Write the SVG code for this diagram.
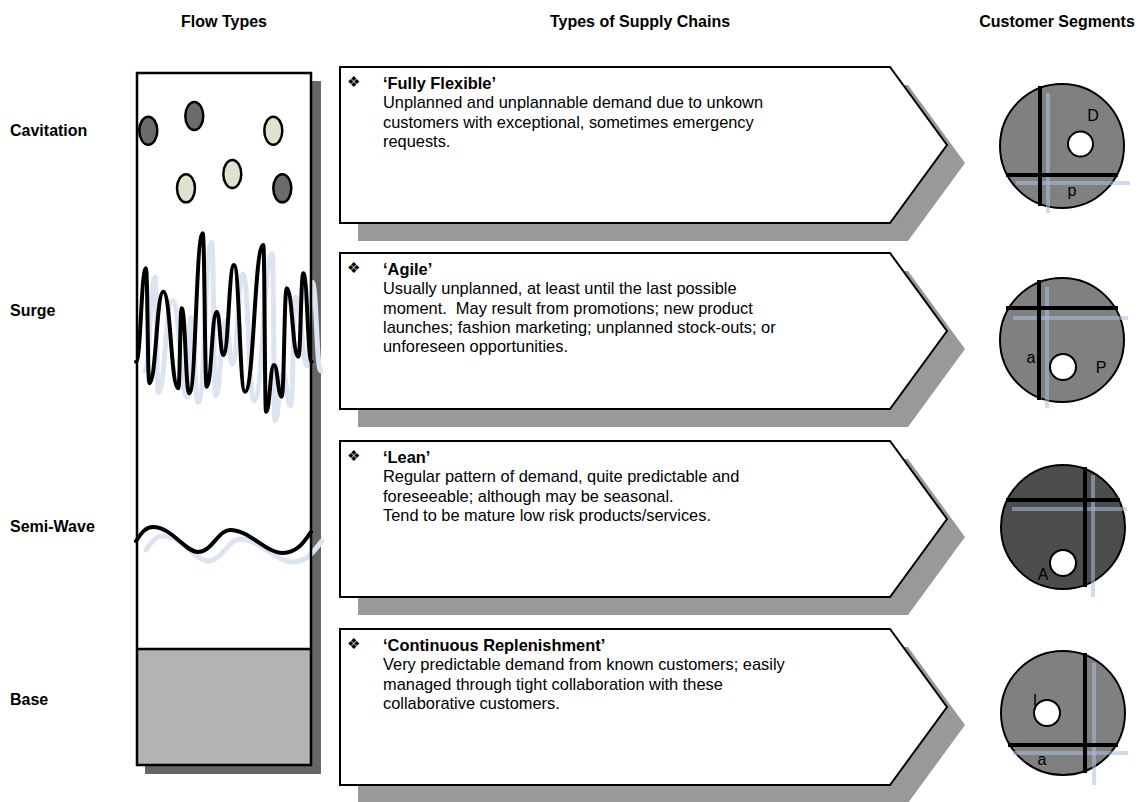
<svg xmlns="http://www.w3.org/2000/svg" width="1139" height="802" viewBox="0 0 1139 802">
  <style>
    .hdr { font-family: "Liberation Sans", Arial, sans-serif; font-size: 16px; font-weight: bold; fill: #000; }
    .body { font-family: "Liberation Sans", Arial, sans-serif; font-size: 16.4px; fill: #000; }
    .ttl { font-weight: bold; }
    .bul { font-family: "DejaVu Sans", sans-serif; font-size: 15px; fill: #000; }
    .arrow { fill: #fff; stroke: #000; stroke-width: 2; stroke-linejoin: miter; }
    .arrowShadow { fill: #999; }
    .seg { stroke: #000; stroke-width: 2; }
    .cut { stroke: #000; stroke-width: 4; fill: none; }
    .ghost { stroke: #a9bde0; stroke-width: 4; fill: none; opacity: 0.55; }
    .hole { fill: #fff; stroke: #000; stroke-width: 2; }
    .lbl { font-family: "Liberation Sans", Arial, sans-serif; font-size: 16px; fill: #000; text-anchor: middle; }
    .dot { stroke: #000; stroke-width: 2.5; }
    .wave { fill: none; stroke: #000; stroke-width: 4; stroke-linejoin: round; stroke-linecap: round; }
    .waveGhost { fill: none; stroke: #dce4f1; stroke-width: 5; stroke-linejoin: round; stroke-linecap: round; }
  </style>
  <defs>
    <polygon id="chev" points="340,0 890,0 947,78 890,156 340,156"/>
  </defs>

  <rect width="1139" height="802" fill="#fff"/>

  <!-- column headers -->
  <g id="headers">
    <text class="hdr" x="224" y="27" text-anchor="middle">Flow Types</text>
    <text class="hdr" x="640" y="27" text-anchor="middle">Types of Supply Chains</text>
    <text class="hdr" x="1057" y="27" text-anchor="middle">Customer Segments</text>
  </g>

  <!-- row labels -->
  <g id="row-labels">
    <text class="hdr" x="10" y="136">Cavitation</text>
    <text class="hdr" x="10" y="316">Surge</text>
    <text class="hdr" x="10" y="532">Semi-Wave</text>
    <text class="hdr" x="10" y="705">Base</text>
  </g>

  <!-- flow types column -->
  <g id="flow-column">
    <rect x="145" y="81" width="176" height="693" fill="#666"/>
    <rect x="137" y="73" width="174" height="692" fill="#fff"/>
    <rect x="137" y="649" width="174" height="116" fill="#b3b3b3"/>
    <line x1="137" y1="649" x2="311" y2="649" stroke="#000" stroke-width="2.5"/>

    <!-- surge wave -->
    <g id="surge">
      <path class="waveGhost" transform="translate(9,9)" d="M136,361.7 C141,361.7 141,268.3 146,268.3 C147.6,268.3 147.6,383.3 149.3,383.3 C156.3,383.3 156.3,291.7 163.3,291.7 C170.8,291.7 170.8,388.3 178.3,388.3 C180,388.3 180,308.3 181.7,308.3 C185.5,308.3 185.5,393.3 189.3,393.3 C196,393.3 196,233.3 202.7,233.3 C204.7,233.3 204.7,386.7 206.7,386.7 C211.7,386.7 211.7,311.7 216.7,311.7 C220,311.7 220,355 223.3,355 C228.7,355 228.7,265 234,265 C239.5,265 239.5,391.7 245,391.7 C254.2,391.7 254.2,245 263.3,245 C264.7,245 264.7,411.7 266,411.7 C270,411.7 270,365 274,365 C277.8,365 277.8,396.7 281.7,396.7 C284.2,396.7 284.2,288.3 286.7,288.3 C292.5,288.3 292.5,356.7 298.3,356.7 C300.8,356.7 300.8,273.3 303.3,273.3 C307.5,273.3 307.5,361.7 311.7,361.7"/>
      <path class="wave" d="M136,361.7 C141,361.7 141,268.3 146,268.3 C147.6,268.3 147.6,383.3 149.3,383.3 C156.3,383.3 156.3,291.7 163.3,291.7 C170.8,291.7 170.8,388.3 178.3,388.3 C180,388.3 180,308.3 181.7,308.3 C185.5,308.3 185.5,393.3 189.3,393.3 C196,393.3 196,233.3 202.7,233.3 C204.7,233.3 204.7,386.7 206.7,386.7 C211.7,386.7 211.7,311.7 216.7,311.7 C220,311.7 220,355 223.3,355 C228.7,355 228.7,265 234,265 C239.5,265 239.5,391.7 245,391.7 C254.2,391.7 254.2,245 263.3,245 C264.7,245 264.7,411.7 266,411.7 C270,411.7 270,365 274,365 C277.8,365 277.8,396.7 281.7,396.7 C284.2,396.7 284.2,288.3 286.7,288.3 C292.5,288.3 292.5,356.7 298.3,356.7 C300.8,356.7 300.8,273.3 303.3,273.3 C307.5,273.3 307.5,361.7 311.7,361.7"/>
    </g>

    <!-- semi-wave -->
    <g id="semi-wave">
      <path class="waveGhost" transform="translate(10,9)" d="M136,541 C142,532 146,527 153,527 C172,527 185,552 198,552 C212,552 218,530 230,530 C250,530 265,553 283,553 C298,553 305,540 312,532"/>
      <path class="wave" d="M136,541 C142,532 146,527 153,527 C172,527 185,552 198,552 C212,552 218,530 230,530 C250,530 265,553 283,553 C298,553 305,540 311,532"/>
    </g>

    <!-- cavitation bubbles -->
    <g id="bubbles">
      <ellipse class="dot" cx="148.3" cy="130.7" rx="9" ry="14" fill="#6b6b6b"/>
      <ellipse class="dot" cx="194.3" cy="116" rx="9" ry="14" fill="#6b6b6b"/>
      <ellipse class="dot" cx="273.3" cy="130.7" rx="9" ry="14" fill="#dde3cc"/>
      <ellipse class="dot" cx="186" cy="188.3" rx="9" ry="14" fill="#dde3cc"/>
      <ellipse class="dot" cx="232.3" cy="174" rx="9" ry="14" fill="#dde3cc"/>
      <ellipse class="dot" cx="282.3" cy="188.3" rx="9" ry="14" fill="#6b6b6b"/>
    </g>

    <rect x="137" y="73" width="174" height="692" fill="none" stroke="#000" stroke-width="2.5"/>
  </g>

  <!-- supply chain types -->
  <g id="chain-fully-flexible" transform="translate(0,67)">
    <use href="#chev" class="arrowShadow" transform="translate(18,18)"/>
    <use href="#chev" class="arrow"/>
    <text class="bul" x="347" y="20">&#x2756;</text>
    <text class="body" x="383" y="22"><tspan class="ttl">‘Fully Flexible’</tspan>
      <tspan x="383" dy="19.3">Unplanned and unplannable demand due to unkown</tspan>
      <tspan x="383" dy="19.3">customers with exceptional, sometimes emergency</tspan>
      <tspan x="383" dy="19.3">requests.</tspan></text>
  </g>

  <g id="chain-agile" transform="translate(0,253)">
    <use href="#chev" class="arrowShadow" transform="translate(18,18)"/>
    <use href="#chev" class="arrow"/>
    <text class="bul" x="347" y="20">&#x2756;</text>
    <text class="body" x="383" y="22"><tspan class="ttl">‘Agile’</tspan>
      <tspan x="383" dy="19.3">Usually unplanned, at least until the last possible</tspan>
      <tspan x="383" dy="19.3">moment.&#160; May result from promotions; new product</tspan>
      <tspan x="383" dy="19.3">launches; fashion marketing; unplanned stock-outs; or</tspan>
      <tspan x="383" dy="19.3">unforeseen opportunities.</tspan></text>
  </g>

  <g id="chain-lean" transform="translate(0,441)">
    <use href="#chev" class="arrowShadow" transform="translate(18,18)"/>
    <use href="#chev" class="arrow"/>
    <text class="bul" x="347" y="20">&#x2756;</text>
    <text class="body" x="383" y="22"><tspan class="ttl">‘Lean’</tspan>
      <tspan x="383" dy="19.3">Regular pattern of demand, quite predictable and</tspan>
      <tspan x="383" dy="19.3">foreseeable; although may be seasonal.</tspan>
      <tspan x="383" dy="19.3">Tend to be mature low risk products/services.</tspan></text>
  </g>

  <g id="chain-continuous" transform="translate(0,629)">
    <use href="#chev" class="arrowShadow" transform="translate(18,18)"/>
    <use href="#chev" class="arrow"/>
    <text class="bul" x="347" y="20">&#x2756;</text>
    <text class="body" x="383" y="22"><tspan class="ttl">‘Continuous Replenishment’</tspan>
      <tspan x="383" dy="19.3">Very predictable demand from known customers; easily</tspan>
      <tspan x="383" dy="19.3">managed through tight collaboration with these</tspan>
      <tspan x="383" dy="19.3">collaborative customers.</tspan></text>
  </g>

  <!-- customer segment discs -->
  <g id="segment-dp">
    <circle class="seg" cx="1062" cy="146" r="62" fill="#808080"/>
    <line class="ghost" x1="1048" y1="93" x2="1048" y2="213"/>
    <line class="ghost" x1="1016" y1="183" x2="1130" y2="183"/>
    <line class="cut" x1="1040" y1="86" x2="1040" y2="206"/>
    <line class="cut" x1="1006" y1="175" x2="1118" y2="175"/>
    <circle class="hole" cx="1080.5" cy="144" r="12.5"/>
    <text class="lbl" x="1093" y="121">D</text>
    <text class="lbl" x="1072" y="196">p</text>
  </g>

  <g id="segment-ap">
    <circle class="seg" cx="1062" cy="340" r="62" fill="#808080"/>
    <line class="ghost" x1="1047" y1="287" x2="1047" y2="408"/>
    <line class="ghost" x1="1013" y1="318" x2="1128" y2="318"/>
    <line class="cut" x1="1039" y1="280" x2="1039" y2="400"/>
    <line class="cut" x1="1006" y1="308" x2="1118" y2="308"/>
    <circle class="hole" cx="1063" cy="367" r="13"/>
    <text class="lbl" x="1031" y="363">a</text>
    <text class="lbl" x="1101" y="373">P</text>
  </g>

  <g id="segment-a">
    <circle class="seg" cx="1063" cy="527" r="62" fill="#4d4d4d"/>
    <line class="ghost" x1="1093" y1="475" x2="1093" y2="597"/>
    <line class="ghost" x1="1012" y1="509" x2="1127" y2="509"/>
    <line class="cut" x1="1085" y1="467" x2="1085" y2="587"/>
    <line class="cut" x1="1006" y1="500" x2="1120" y2="500"/>
    <circle class="hole" cx="1063" cy="563" r="13"/>
    <text class="lbl" x="1043" y="580">A</text>
  </g>

  <g id="segment-la">
    <circle class="seg" cx="1063" cy="713" r="62" fill="#808080"/>
    <line class="ghost" x1="1094" y1="663" x2="1094" y2="785"/>
    <line class="ghost" x1="1013" y1="753" x2="1128" y2="753"/>
    <line class="cut" x1="1085" y1="653" x2="1085" y2="773"/>
    <line class="cut" x1="1008" y1="745" x2="1118" y2="745"/>
    <text class="lbl" x="1035" y="706">l</text>
    <circle class="hole" cx="1047" cy="713" r="13"/>
    <text class="lbl" x="1042" y="765">a</text>
  </g>
</svg>
